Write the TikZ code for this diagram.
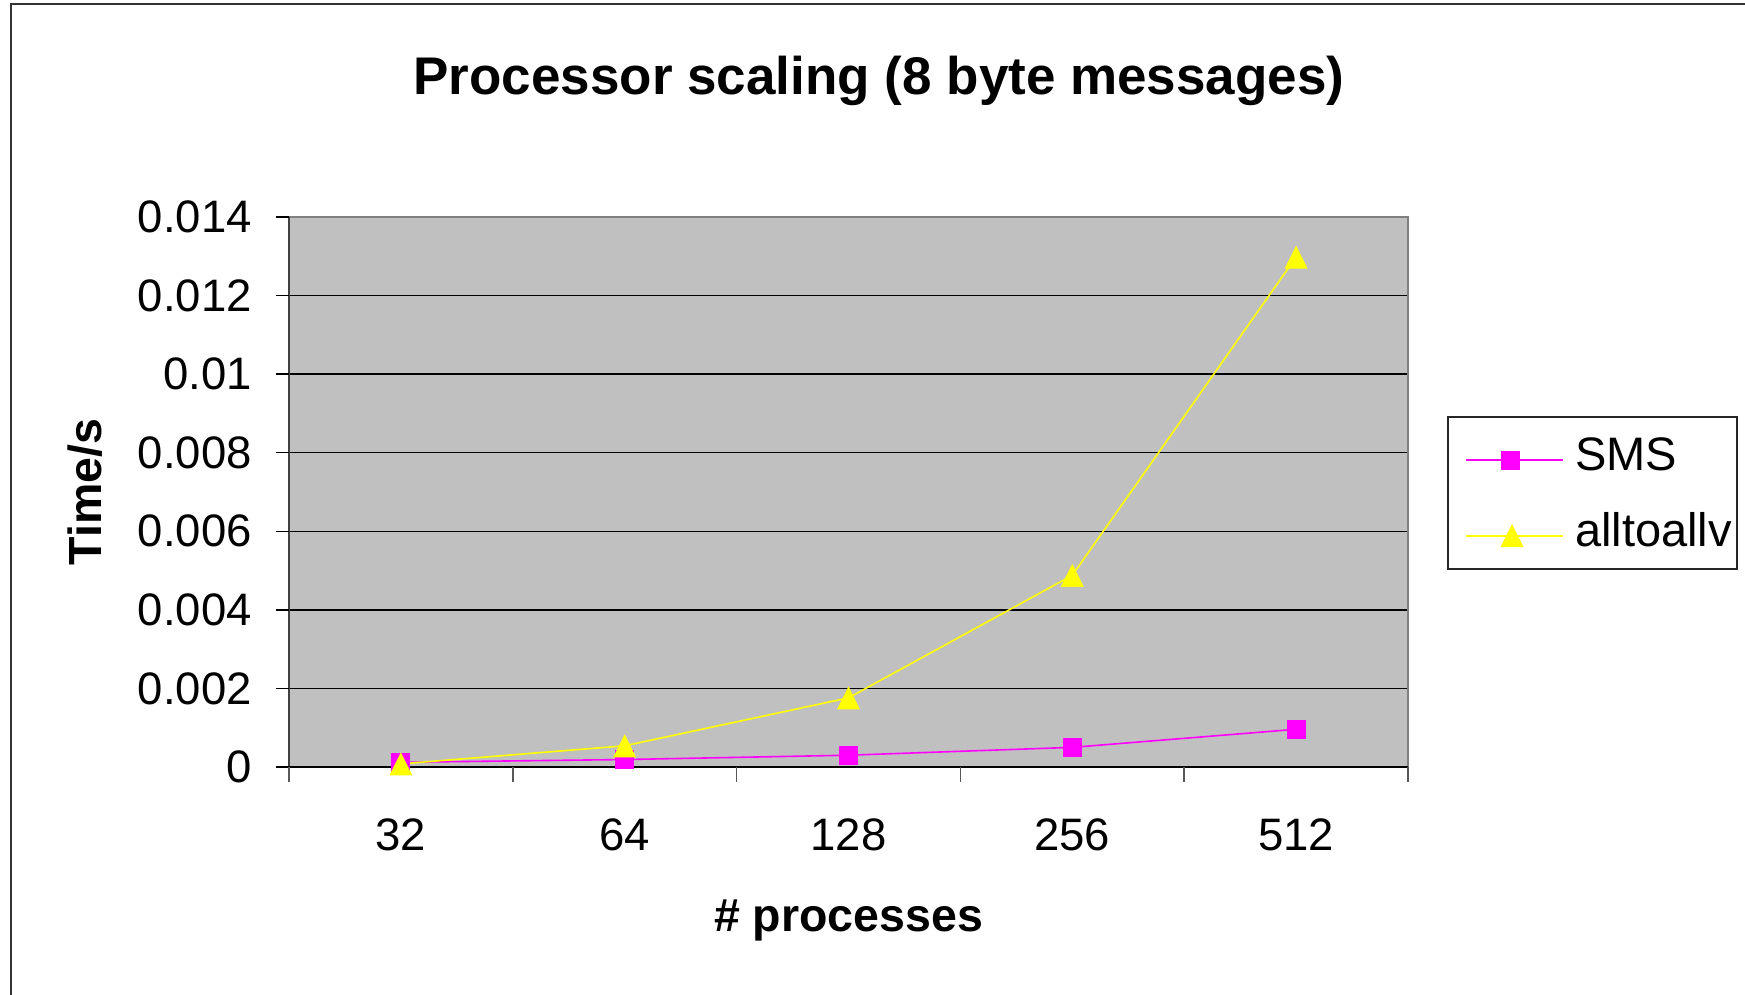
\documentclass[tikz,border=0pt]{standalone}
\usepackage{fontspec}
\setmainfont{Liberation Sans}
\definecolor{plotgray}{HTML}{C0C0C0}
\definecolor{smsc}{HTML}{FF00FF}
\definecolor{allc}{HTML}{FFFF00}
\definecolor{framegray}{HTML}{808080}
\tikzset{
  titlefont/.style={font=\fontsize{53}{60}\selectfont\bfseries},
  axtitle/.style={font=\fontsize{46.5}{52}\selectfont\bfseries, inner sep=0pt},
  ticklab/.style={font=\fontsize{45.5}{52}\selectfont, inner sep=0pt},
  legfont/.style={font=\fontsize{47}{54}\selectfont, inner sep=0pt},
  gridline/.style={black, line width=1.3pt},
  smsline/.style={smsc, line width=1.6pt},
  allline/.style={allc, line width=1.6pt},
  sqmark/.style={fill=smsc, draw=none, minimum size=19pt, inner sep=0pt, rectangle},
}
\begin{document}
\begin{tikzpicture}[x=1pt, y=-1pt]
\useasboundingbox (0,0) rectangle (1745,995);
% outer frame
\draw[line width=2pt, black!80] (10.5,995) -- (10.5,4.5) -- (1745,4.5);
% title
\node[titlefont, anchor=base, inner sep=0pt] (title) at (879,95) {Processor scaling (8 byte messages)};
% axis titles
\node[axtitle, anchor=base, rotate=90] (ytitle) at (101,492) {Time/s};
\node[axtitle, anchor=base] (xtitle) at (848.5,931) {\# processes};
% plot area
\begin{scope}[shift={(289pt,-767pt)}, x=223.8pt, y=39.2857pt]
  \fill[plotgray] (0,0) rectangle (5,14);
  \foreach \v in {2,4,...,12} \draw[gridline] (0,\v) -- (5,\v);
  \draw[framegray, line width=1.5pt] (0,14) -- (5,14) -- (5,0);
  \draw[black!75, line width=1.5pt] (0,0) -- (0,14);
  \draw[black, line width=1.5pt] (0,0) -- (5,0);
  \foreach \v in {0,2,...,14} \draw[black, line width=1.3pt] (0,\v) -- ++(-13pt,0pt);
  \foreach \i in {0,...,5} \draw[black!65, line width=1.5pt] (\i,0) -- ++(0pt,-15pt);
  \foreach \v/\t in {0/0, 2/0.002, 4/0.004, 6/0.006, 8/0.008, 10/0.01, 12/0.012, 14/0.014}
    \node[ticklab, anchor=east, xshift=-37pt] (yl\v) at (0,\v) {\t};
  \foreach \i/\t in {0/32, 1/64, 2/128, 3/256, 4/512}
    \node[ticklab, anchor=base, yshift=-83pt] (xl\i) at (\i+0.5,0) {\t};
  % data
  \coordinate (s1) at (0.5,0.12);
  \coordinate (s2) at (1.5,0.19);
  \coordinate (s3) at (2.5,0.30);
  \coordinate (s4) at (3.5,0.50);
  \coordinate (s5) at (4.5,0.96);
  \coordinate (a1) at (0.5,0.08);
  \coordinate (a2) at (1.5,0.54);
  \coordinate (a3) at (2.5,1.76);
  \coordinate (a4) at (3.5,4.88);
  \coordinate (a5) at (4.5,12.98);
  \draw[smsline] (s1) -- (s2) -- (s3) -- (s4) -- (s5);
  \draw[allline] (a1) -- (a2) -- (a3) -- (a4) -- (a5);
  \foreach \n in {1,...,5} \node[sqmark] (ms\n) at (s\n) {};
  \foreach \n in {1,...,5} \fill[allc] (a\n) ++(0pt,11.5pt) -- ++(-11.5pt,-23pt) -- ++(23pt,0pt) -- cycle;
\end{scope}
% legend
\node[draw=black!85, line width=1.8pt, fill=white, minimum width=289pt, minimum height=152pt, inner sep=0pt, anchor=north west] (legend) at (1447,416) {};
\coordinate (l1a) at (1466,460);
\coordinate (l1b) at (1563,460);
\coordinate (l2a) at (1466,536);
\coordinate (l2b) at (1563,536);
\draw[smsline] (l1a) -- (l1b);
\draw[allline] (l2a) -- (l2b);
\node[sqmark] (lsq) at (1510,460) {};
\coordinate (ltri) at (1512,535.5);
\fill[allc] (ltri) ++(0pt,11.5pt) -- ++(-11.5pt,-23pt) -- ++(23pt,0pt) -- cycle;
\node[legfont, anchor=base west] (lt1) at (1575,470) {SMS};
\node[legfont, anchor=base west] (lt2) at (1575,546) {alltoallv};
\end{tikzpicture}
\end{document}
